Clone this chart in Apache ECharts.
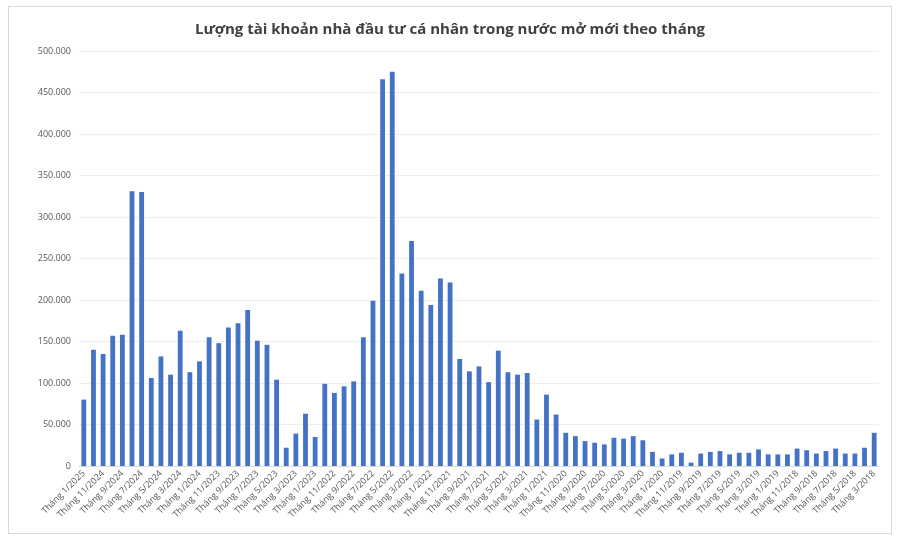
<!DOCTYPE html>
<html lang="vi">
<head>
  <meta charset="UTF-8">
  <script src="https://cdn.jsdelivr.net/npm/echarts@6/dist/echarts.min.js"></script>
  <style>
    body { margin: 0; background: #fff; }
    #main { position: absolute; left: 8px; top: 6px; width: 884px; height: 528px; border: 1px solid #d9d9d9; box-sizing: border-box; }
  </style>
</head>
<body>
  <div id="main"></div>
<script>
  var titleText = 'Lượng tài khoản nhà đầu tư cá nhân trong nước mở mới theo tháng';
  // tháng mới nhất trước: 1/2025 ... 3/2018
  var accounts = [
    80000, 140000, 135000, 157000, 158000, 331000, 330000, 106000, 132000, 110000,
    163000, 113000, 126000, 155000, 148000, 167000, 172000, 188000, 151000, 146000,
    104000, 22000, 39000, 63000, 35000, 99000, 88000, 96000, 102000, 155000,
    199000, 466000, 475000, 232000, 271000, 211000, 194000, 226000, 221000, 129000,
    114000, 120000, 101000, 139000, 113000, 110000, 112000, 56000, 86000, 62000,
    40000, 36000, 30000, 28000, 26000, 34000, 33000, 36000, 31000, 17000,
    9000, 14000, 16000, 4000, 15000, 17000, 18000, 14000, 16000, 16000,
    20000, 14000, 14000, 14000, 21000, 19000, 15000, 18000, 21000, 15000,
    15000, 22000, 40000
  ];
  var months = [];
  var m = 1, y = 2025;
  for (var i = 0; i < accounts.length; i++) {
    months.push('Tháng ' + m + '/' + y);
    m--; if (m === 0) { m = 12; y--; }
  }

  var chart = echarts.init(document.getElementById('main'));
  chart.setOption({
    animation: false,
    textStyle: { fontFamily: 'Open Sans, Lato, sans-serif' },
    title: {
      text: titleText, left: 'center', top: 10,
      textStyle: { fontSize: 15, fontWeight: 'bold', color: '#404040' }
    },
    grid: { left: 70, right: 12, top: 44, bottom: 67 },
    xAxis: {
      type: 'category', data: months,
      axisLine: { lineStyle: { color: '#d9d9d9' } },
      axisTick: { show: false },
      axisLabel: { interval: 1, rotate: 45, fontSize: 9, color: '#595959', margin: 6 }
    },
    yAxis: {
      type: 'value', min: 0, max: 500000, interval: 50000,
      axisLabel: {
        fontSize: 9, color: '#595959',
        formatter: function (v) { return v === 0 ? '0' : (v / 1000) + '.000'; }
      },
      splitLine: { lineStyle: { color: '#eeeeee' } }
    },
    series: [{
      type: 'bar', data: accounts, barWidth: '50%',
      itemStyle: { color: '#4472c4' }
    }]
  });
</script>
</body>
</html>
